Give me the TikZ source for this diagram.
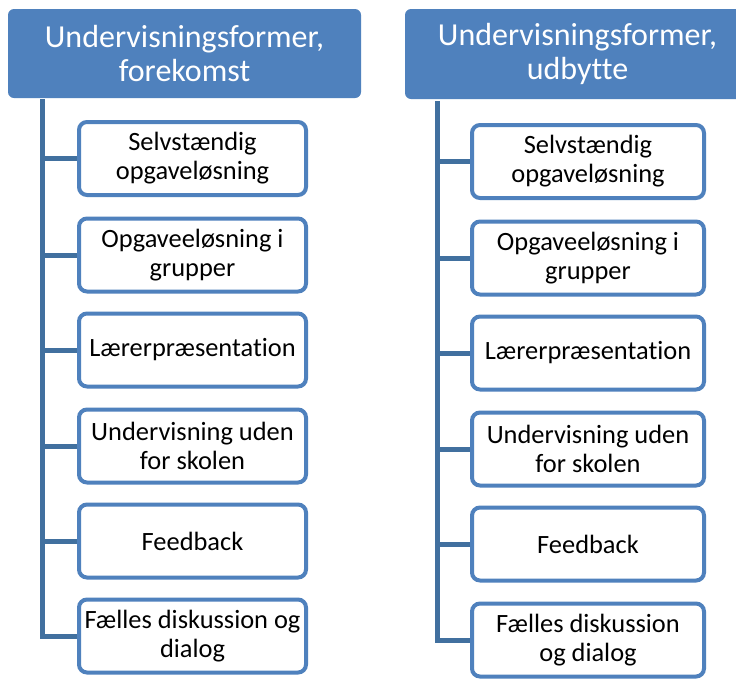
\documentclass[tikz,border=0pt]{standalone}
\usepackage{fontspec}
\setmainfont[Ligatures={NoCommon}]{Carlito}
\definecolor{hdrblue}{HTML}{4F81BD}
\definecolor{lineblue}{HTML}{41709F}
\begin{document}
\begin{tikzpicture}[x=1pt,y=-1pt,
  hdr/.style={fill=hdrblue,draw=none,rounded corners=6pt,text=white,align=center,
    inner sep=0pt,font=\fontsize{32}{34}\selectfont},
  child/.style={fill=white,draw=hdrblue,line width=4pt,rounded corners=8pt,align=center,
    inner sep=0pt,font=\fontsize{26.4}{29}\selectfont,text=black},
  conn/.style={draw=lineblue,line width=5pt}]
\clip (0,0) rectangle (736,678);
\fill[white] (0,0) rectangle (736,678);
% left column
\node[hdr,minimum width=353pt,minimum height=89pt] (L0) at (184.5,53.5) {Undervisningsformer,\\forekomst};
\coordinate (Ltop) at (42,99);
\foreach \n/\y/\t in {1/158.5/{Selvstændig\\opgaveløsning},
                      2/255/{Opgaveeløsning i\\grupper},
                      3/350/{Lærerpræsentation},
                      4/446/{Undervisning uden\\for skolen},
                      5/541/{Feedback},
                      6/636/{Fælles diskussion og\\dialog}}{
  \node[child,minimum width=227pt,minimum height=73pt] (L\n) at (192.5,\y) {\t};
}
% right column
\node[hdr,minimum width=345pt,minimum height=90pt] (R0) at (577.5,54) {Undervisningsformer,\\udbytte};
\coordinate (Rtop) at (437,101);
\foreach \n/\y/\t in {1/161.5/{Selvstændig\\opgaveløsning},
                      2/258/{Opgaveeløsning i\\grupper},
                      3/353/{Lærerpræsentation},
                      4/449/{Undervisning uden\\for skolen},
                      5/544/{Feedback},
                      6/640/{Fælles diskussion\\og dialog}}{
  \node[child,minimum width=232pt,minimum height=73pt] (R\n) at (588,\y) {\t};
}
% connectors
\foreach \n in {1,...,6}{
  \draw[conn] (Ltop) |- (L\n.west);
  \draw[conn] (Rtop) |- (R\n.west);
}
\end{tikzpicture}
\end{document}
